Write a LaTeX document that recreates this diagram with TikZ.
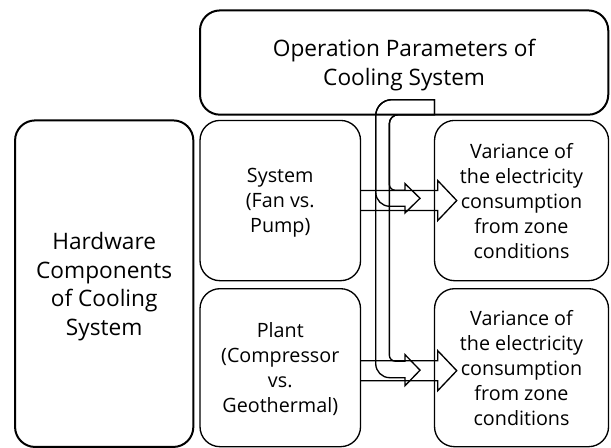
\documentclass[tikz,border=0pt]{standalone}
\usepackage{fontspec}
\setmainfont{Open Sans}
\usetikzlibrary{positioning}

\tikzset{
    box/.style={draw, rounded corners=15pt, line width=1pt, outer sep=0pt, text depth=0pt,
        align=center, font=\fontsize{14.8}{18.75}\selectfont},
    bigbox/.style={box, line width=1.5pt, font=\fontsize{17}{21.4}\selectfont},
    block/.style={draw, line width=1pt, line join=miter},
    bent/.style={draw, line width=1pt},
}

\begin{document}
\begin{tikzpicture}[x=0.75pt, y=0.75pt]
        \useasboundingbox (0,0) rectangle (611,448);
        \node [bigbox, minimum width=133.7pt, minimum height=244.9pt] (hw) at (104.2,164.3)
            {Hardware\\Components\\of Cooling\\System};
        \node [box, minimum width=120.4pt, minimum height=120.2pt, below right=0pt and 5pt of hw.north east] (sys)
            {System\\(Fan vs.\\Pump)};
        \node [box, minimum width=120.4pt, minimum height=118.5pt, below=6pt of sys] (plant)
            {Plant\\(Compressor\\vs.\\Geothermal)};
        \node [box, minimum width=130.5pt, minimum height=120.2pt, right=55.5pt of sys] (var1)
            {Variance of\\the electricity\\consumption\\from zone\\conditions};
        \node [box, minimum width=130.5pt, minimum height=118.5pt, right=55.5pt of plant] (var2)
            {Variance of\\the electricity\\consumption\\from zone\\conditions};
        \node [bigbox, minimum width=306.2pt, minimum height=78.2pt,
            above=4.3pt of sys.north west, anchor=south west] (ops)
            {Operation Parameters of\\Cooling System};
        \coordinate (tail) at (ops.south -| var1.west);
        % block arrows
        \draw [block] (sys.east) ++(0,10) -- ++(77.2,0) -- ++(0,10) -- ++(19,-20) -- ++(-19,-20) -- ++(0,10) -- ++(-77.2,0);
        \draw [block] (plant.east) ++(0,7) -- ++(77.2,0) -- ++(0,10) -- ++(19,-20) -- ++(-19,-20) -- ++(0,10) -- ++(-77.2,0);
        % bent arrows
        \draw [bent] (tail) -- ++(0,15) -- ++(-42.8,0) arc[start angle=90, end angle=180, radius=16]
            -- ++(0,-76.6) arc[start angle=180, end angle=270, radius=14] -- ++(15.3,0) -- ++(0,-6.7)
            -- ++(15,14.7) -- ++(-15,14.6) -- ++(0,-6.6) -- ++(-9.7,0) arc[start angle=270, end angle=180, radius=6]
            -- ++(0,60.6) arc[start angle=180, end angle=90, radius=9] -- cycle;
        \draw [bent] (tail) -- ++(0,15) -- ++(-42.8,0) arc[start angle=90, end angle=180, radius=16]
            -- ++(0,-248) arc[start angle=180, end angle=270, radius=14] -- ++(15.3,0) -- ++(0,-8)
            -- ++(15,15.5) -- ++(-15,15.5) -- ++(0,-6.5) -- ++(-9.7,0) arc[start angle=270, end angle=180, radius=6]
            -- ++(0,231.5) arc[start angle=180, end angle=90, radius=9] -- cycle;
    \end{tikzpicture}
\end{document}
